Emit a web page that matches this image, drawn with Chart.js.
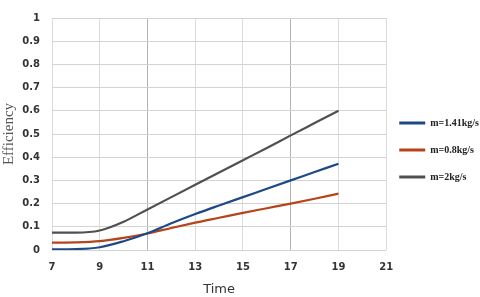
<!DOCTYPE html>
<html>
<head>
<meta charset="utf-8">
<script src="https://cdn.jsdelivr.net/npm/chart.js@4/dist/chart.umd.min.js"></script>
<style>
  html, body { margin: 0; padding: 0; background: #ffffff; }
  #wrap { width: 480px; height: 297px; position: relative; }
</style>
</head>
<body>
<div id="wrap"><canvas id="c" width="480" height="297"></canvas></div>
<script>
const times = [7, 8, 9, 10, 11, 12, 13, 14, 15, 16, 17, 18, 19];
const seriesLabels = ["m=1.41kg/s", "m=0.8kg/s", "m=2kg/s"];
const m141 = [0.003, 0.004, 0.012, 0.038, 0.072, 0.115, 0.155, 0.192, 0.228, 0.264, 0.300, 0.336, 0.372];
const m08  = [0.032, 0.033, 0.038, 0.052, 0.071, 0.095, 0.118, 0.139, 0.160, 0.180, 0.200, 0.221, 0.243];
const m2   = [0.075, 0.075, 0.084, 0.122, 0.175, 0.228, 0.281, 0.334, 0.387, 0.440, 0.494, 0.547, 0.600];
const xTicks = [7, 9, 11, 13, 15, 17, 19, 21];
const yTicks = [0, 0.1, 0.2, 0.3, 0.4, 0.5, 0.6, 0.7, 0.8, 0.9, 1];

const colors = ["#1d4a85", "#b5441a", "#505050"];
const seriesValues = [m141, m08, m2];

const datasets = seriesValues.map((vals, i) => ({
  label: seriesLabels[i],
  data: times.map((t, j) => ({ x: t, y: vals[j] })),
  borderColor: colors[i],
  backgroundColor: colors[i],
  borderWidth: 2.2,
  pointRadius: 0,
  fill: false,
  cubicInterpolationMode: 'monotone'
}));

new Chart(document.getElementById('c'), {
  type: 'line',
  data: { datasets },
  options: {
    responsive: false,
    animation: false,
    devicePixelRatio: 1,
    layout: { padding: { left: 0, top: 7, right: -9, bottom: 0 } },
    plugins: {
      tooltip: { enabled: false },
      legend: {
        position: 'right',
        align: 'center',
        labels: {
          boxWidth: 26,
          boxHeight: 3,
          padding: 13,
          color: '#222',
          font: { family: 'Liberation Serif', size: 10, weight: 'bold', lineHeight: 1.4 },
          generateLabels: (chart) => chart.data.datasets.map((d, i) => ({
            text: [d.label],
            fillStyle: d.borderColor,
            strokeStyle: d.borderColor,
            lineWidth: 0,
            hidden: false,
            datasetIndex: i,
            fontColor: '#222'
          }))
        }
      }
    },
    scales: {
      x: {
        type: 'linear',
        min: 7,
        max: 21,
        afterBuildTicks: (s) => { s.ticks = xTicks.map(v => ({ value: v })); },
        afterFit: (s) => { s.height = 47; },
        grid: {
          drawTicks: false,
          color: (ctx) => (ctx.tick && (ctx.tick.value === 11 || ctx.tick.value === 17)) ? '#b3b3b3' : '#dcdcdc',
          lineWidth: 1
        },
        border: { display: false },
        ticks: {
          padding: 11,
          color: '#333',
          font: { family: 'DejaVu Sans', size: 10, weight: 'bold' }
        },
        title: {
          display: true,
          text: 'Time',
          color: '#333',
          padding: { top: 0, bottom: 0 },
          font: { family: 'DejaVu Sans', size: 13 }
        }
      },
      y: {
        type: 'linear',
        min: 0,
        max: 1,
        afterBuildTicks: (s) => { s.ticks = yTicks.map(v => ({ value: v })); },
        afterFit: (s) => { s.width = 52; },
        grid: { drawTicks: false, color: '#d3d3d3', lineWidth: 1 },
        border: { display: false },
        ticks: {
          padding: 12,
          color: '#333',
          font: { family: 'DejaVu Sans', size: 10, weight: 'bold' },
          callback: (v) => String(Math.round(v * 10) / 10)
        },
        title: {
          display: true,
          text: 'Efficiency',
          color: '#555',
          padding: { top: 0, bottom: 0 },
          font: { family: 'Liberation Serif', size: 15 }
        }
      }
    }
  }
});
</script>
</body>
</html>
